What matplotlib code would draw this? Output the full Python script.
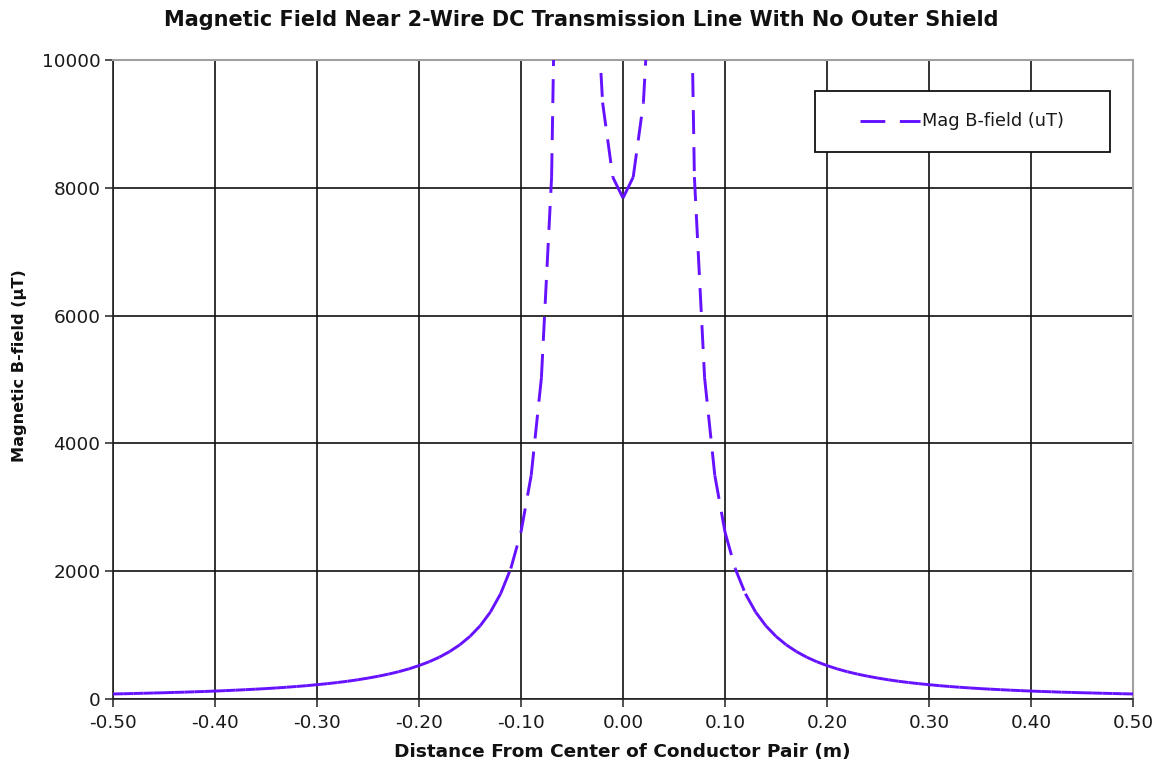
import matplotlib
matplotlib.use("Agg")
import matplotlib.pyplot as plt
from matplotlib.patches import Rectangle
import numpy as np

x_m = [-0.50, -0.49, -0.48, -0.47, -0.46, -0.45, -0.44, -0.43, -0.42, -0.41,
       -0.40, -0.39, -0.38, -0.37, -0.36, -0.35, -0.34, -0.33, -0.32, -0.31,
       -0.30, -0.29, -0.28, -0.27, -0.26, -0.25, -0.24, -0.23, -0.22, -0.21,
       -0.20, -0.19, -0.18, -0.17, -0.16, -0.15, -0.14, -0.13, -0.12, -0.11,
       -0.10, -0.09, -0.08, -0.07, -0.06, -0.05, -0.04, -0.03, -0.02, -0.01,
       0.00, 0.01, 0.02, 0.03, 0.04, 0.05, 0.06, 0.07, 0.08, 0.09,
       0.10, 0.11, 0.12, 0.13, 0.14, 0.15, 0.16, 0.17, 0.18, 0.19,
       0.20, 0.21, 0.22, 0.23, 0.24, 0.25, 0.26, 0.27, 0.28, 0.29,
       0.30, 0.31, 0.32, 0.33, 0.34, 0.35, 0.36, 0.37, 0.38, 0.39,
       0.40, 0.41, 0.42, 0.43, 0.44, 0.45, 0.46, 0.47, 0.48, 0.49, 0.50]

b_uT = [79, 82, 86, 90, 94, 98, 103, 107, 113, 118,
        124, 131, 138, 146, 154, 163, 173, 184, 196, 209,
        224, 240, 258, 278, 301, 327, 356, 389, 427, 471,
        523, 583, 655, 742, 848, 980, 1146, 1361, 1647, 2042,
        2613, 3500, 5026, 8167, 17818, np.nan, 21778, 12250, 9333, 8167,
        7840, 8167, 9333, 12250, 21778, np.nan, 17818, 8167, 5026, 3500,
        2613, 2042, 1647, 1361, 1146, 980, 848, 742, 655, 583,
        523, 471, 427, 389, 356, 327, 301, 278, 258, 240,
        224, 209, 196, 184, 173, 163, 154, 146, 138, 131,
        124, 118, 113, 107, 103, 98, 94, 90, 86, 82, 79]

x_ticks = [-0.5, -0.4, -0.3, -0.2, -0.1, 0.0, 0.1, 0.2, 0.3, 0.4, 0.5]
y_ticks = [0, 2000, 4000, 6000, 8000, 10000]

title = "Magnetic Field Near 2-Wire DC Transmission Line With No Outer Shield"
xlabel = "Distance From Center of Conductor Pair (m)"
ylabel = "Magnetic B-field (\u00b5T)"
series_name = "Mag B-field (uT)"

color = "#6611FF"
lw = 2.1
dash = (8.2, 4.5)

fig = plt.figure(figsize=(11.61, 7.67), dpi=100)
ax = fig.add_axes([113/1161, 1 - 699/767, (1133-113)/1161, (699-60)/767])

ax.set_xlim(-0.5, 0.5)
ax.set_ylim(0, 10000)
ax.set_xticks(x_ticks)
ax.set_yticks(y_ticks)
ax.set_xticklabels([f"{v:.2f}" for v in x_ticks])
ax.set_yticklabels([str(v) for v in y_ticks])
ax.tick_params(axis="both", labelsize=13.3, length=6, width=1.2, color="#333333",
               labelcolor="#1a1a1a", direction="out")
ax.tick_params(axis="x", pad=5)
ax.tick_params(axis="y", pad=3)
ax.grid(True, color="#111111", linewidth=1.2)
ax.set_axisbelow(True)
for side in ["left", "bottom"]:
    ax.spines[side].set_color("#222222")
    ax.spines[side].set_linewidth(1.2)
for side in ["top", "right"]:
    ax.spines[side].set_color("#a0a0a0")
    ax.spines[side].set_linewidth(1.5)

# Excel-style dashing: dash pattern restarts on each segment
for i in range(len(x_m) - 1):
    ya, yb = b_uT[i], b_uT[i + 1]
    if np.isnan(ya) or np.isnan(yb):
        continue
    ax.plot([x_m[i], x_m[i + 1]], [ya, yb], color=color, linewidth=lw,
            linestyle=(0, dash), dash_capstyle="butt", zorder=3)

# legend box
ax.add_patch(Rectangle(((815-113)/1020, (699-152)/639), (1110-815)/1020, (152-91)/639,
                       transform=ax.transAxes, facecolor="white", edgecolor="#111111",
                       linewidth=1.3, zorder=5, clip_on=False))
ax.plot([(860-113)/1020, (920-113)/1020], [(699-121)/639]*2, transform=ax.transAxes,
        color=color, linewidth=lw, linestyle=(0, (8.5, 5.0)), dash_capstyle="butt",
        zorder=6, clip_on=False)
ax.text((922-113)/1020, (699-121)/639, series_name, transform=ax.transAxes,
        fontsize=12.8, color="#1a1a1a", va="center", ha="left", zorder=6)

fig.text(581/1161, 1 - 20/767, title, fontsize=15, fontweight="bold",
         ha="center", va="center", color="#111111")
fig.text(622/1161, 1 - 752/767, xlabel, fontsize=13.3, fontweight="bold",
         ha="center", va="center", color="#111111")
fig.text(20/1161, 1 - 366/767, ylabel, fontsize=11.6, fontweight="bold",
         ha="center", va="center", rotation=90, color="#111111")

fig.savefig("out.png", dpi=100)
